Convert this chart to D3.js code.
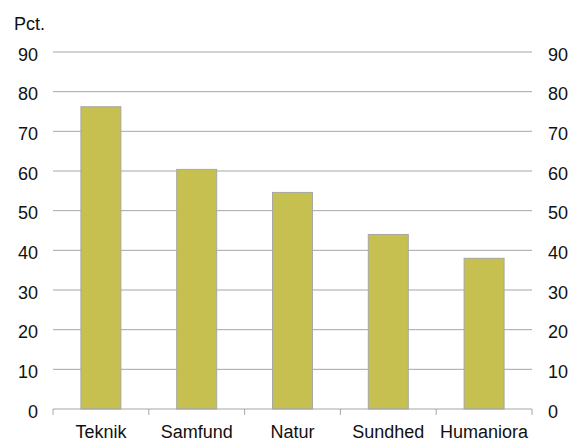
<!DOCTYPE html>
<html><head><meta charset="utf-8">
<script src="https://cdn.jsdelivr.net/npm/d3@7"></script>
<style>body{margin:0;background:#fff}svg{display:block}text{font-family:"Liberation Sans",Arial,sans-serif;fill:#111}</style>
</head><body>
<script>
const categories = ["Teknik","Samfund","Natur","Sundhed","Humaniora"];
const values = [76.2, 60.4, 54.6, 44.0, 38.0];
const yTicks = [0,10,20,30,40,50,60,70,80,90];
const unitLabel = "Pct.";

const W = 574, H = 443;
const svg = d3.select("body").append("svg").attr("width", W).attr("height", H);
const xb = d3.scaleBand().domain(categories).range([53, 532]);
const y = d3.scaleLinear().domain([0, 90]).range([409, 52]);

// gridlines
svg.append("g").selectAll("line").data(yTicks.filter(d => d > 0)).join("line")
  .attr("x1", 53).attr("x2", 532).attr("y1", d => y(d)).attr("y2", d => y(d))
  .attr("stroke", "#a6a6a6").attr("stroke-width", 1);

// left labels
svg.append("g").selectAll("text").data(yTicks).join("text")
  .attr("x", 38).attr("y", d => y(d) + 8.5).attr("text-anchor", "end")
  .attr("font-size", 18).text(d => d);
// right labels
svg.append("g").selectAll("text").data(yTicks).join("text")
  .attr("x", 548).attr("y", d => y(d) + 8.5).attr("text-anchor", "start")
  .attr("font-size", 18).text(d => d);

svg.append("text").attr("x", 14).attr("y", 30).attr("font-size", 18).text(unitLabel);

// bars
svg.append("g").selectAll("rect").data(values).join("rect")
  .attr("x", (d, i) => xb(categories[i]) + xb.bandwidth() / 2 - 20)
  .attr("width", 40)
  .attr("y", d => y(d)).attr("height", d => y(0) - y(d))
  .attr("fill", "#c6c050").attr("stroke", "#a8a8a0").attr("stroke-width", 1);

// x axis
const xAxis = svg.append("g");
xAxis.append("line").attr("x1", 53).attr("x2", 532).attr("y1", y(0)).attr("y2", y(0))
  .attr("stroke", "#a6a6a6");
const bounds = categories.map(c => xb(c)).concat([xb(categories[categories.length-1]) + xb.bandwidth()]);
xAxis.selectAll("line.t").data(bounds).join("line").attr("class","t")
  .attr("x1", d => d).attr("x2", d => d).attr("y1", y(0)).attr("y2", y(0) + 6)
  .attr("stroke", "#a6a6a6");
xAxis.selectAll("text").data(categories).join("text")
  .attr("x", d => xb(d) + xb.bandwidth() / 2).attr("y", 438)
  .attr("text-anchor", "middle").attr("font-size", 18).text(d => d);
</script>
</body></html>
